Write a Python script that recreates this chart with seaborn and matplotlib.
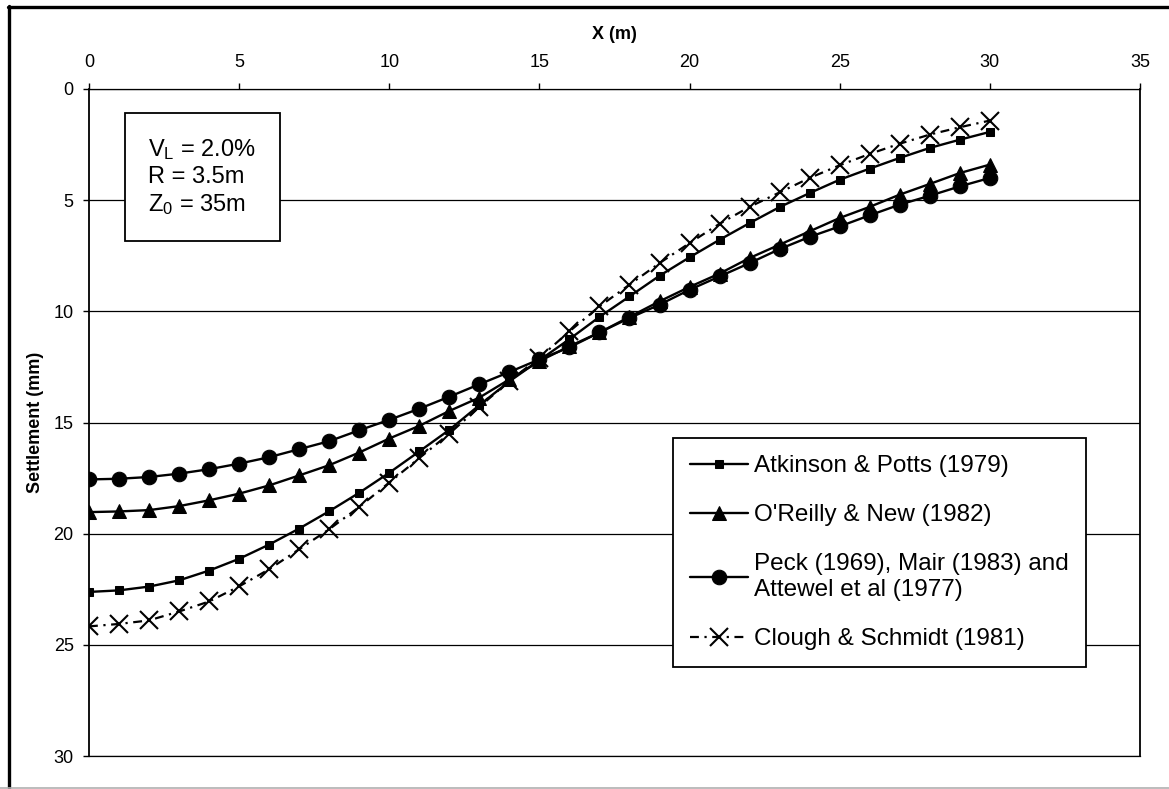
import matplotlib
matplotlib.use("Agg")
import matplotlib.pyplot as plt
import seaborn as sns
from matplotlib.lines import Line2D

# Horizontal distance from tunnel centreline (m)
distance_m = list(range(0, 31))

# Predicted surface settlement (mm) for each empirical method
atkinson_potts = [22.62, 22.55, 22.38, 22.10, 21.66, 21.13, 20.49, 19.77, 18.99, 18.16,
                  17.26, 16.30, 15.33, 14.22, 13.15, 12.20, 11.25, 10.25, 9.33, 8.40,
                  7.57, 6.78, 6.03, 5.31, 4.68, 4.08, 3.58, 3.10, 2.65, 2.28, 1.93]
oreilly_new = [19.03, 19.00, 18.94, 18.76, 18.50, 18.20, 17.83, 17.38, 16.92, 16.35,
               15.72, 15.15, 14.48, 13.88, 13.06, 12.24, 11.57, 10.95, 10.25, 9.55,
               8.90, 8.30, 7.60, 7.00, 6.40, 5.80, 5.30, 4.75, 4.27, 3.78, 3.40]
peck_mair_attewell = [17.56, 17.53, 17.45, 17.30, 17.10, 16.85, 16.56, 16.20, 15.84, 15.35,
                      14.88, 14.38, 13.84, 13.28, 12.73, 12.16, 11.62, 10.95, 10.30, 9.70,
                      9.03, 8.43, 7.83, 7.20, 6.65, 6.18, 5.68, 5.20, 4.80, 4.38, 4.00]
clough_schmidt = [24.17, 24.06, 23.90, 23.50, 23.05, 22.37, 21.60, 20.70, 19.80, 18.80,
                  17.70, 16.60, 15.50, 14.30, 13.13, 12.09, 10.90, 9.78, 8.80, 7.83,
                  6.93, 6.06, 5.30, 4.65, 4.00, 3.43, 2.92, 2.46, 2.05, 1.72, 1.42]

series_labels = ["Atkinson & Potts (1979)",
                 "O'Reilly & New (1982)",
                 "Peck (1969), Mair (1983) and\nAttewel et al (1977)",
                 "Clough & Schmidt (1981)"]
series_values = [atkinson_potts, oreilly_new, peck_mair_attewell, clough_schmidt]

x_ticks = [0, 5, 10, 15, 20, 25, 30, 35]
y_ticks = [0, 5, 10, 15, 20, 25, 30]

parameter_text = "V$_{\\mathregular{L}}$ = 2.0%\nR = 3.5m\nZ$_{\\mathregular{0}}$ = 35m"

sns.set_theme(style="white")
plt.rcParams["font.family"] = ["Liberation Sans", "DejaVu Sans"]
plt.rcParams["mathtext.fontset"] = "custom"
plt.rcParams["mathtext.rm"] = "Liberation Sans"
plt.rcParams["mathtext.it"] = "Liberation Sans:italic"
plt.rcParams["mathtext.bf"] = "Liberation Sans:bold"
plt.rcParams["text.color"] = "black"
plt.rcParams["axes.labelcolor"] = "black"
plt.rcParams["xtick.color"] = "black"
plt.rcParams["ytick.color"] = "black"

fig = plt.figure(figsize=(11.69, 7.89), dpi=100)
fig.patch.set_facecolor("white")
ax = fig.add_axes([0.0761, 0.0418, 0.8991, 0.8454])

line_styles = [
    dict(marker="s", markersize=5.5, linestyle="-", linewidth=1.7),
    dict(marker="^", markersize=10, linestyle="-", linewidth=1.7),
    dict(marker="o", markersize=10.5, linestyle="-", linewidth=1.7),
    dict(marker="x", markersize=12.5, markeredgewidth=1.5,
         linestyle=(0, (4, 2.5, 1, 2.5)), linewidth=1.6),
]

for label, values, style in zip(series_labels, series_values, line_styles):
    sns.lineplot(x=distance_m, y=values, ax=ax, color="black",
                 markeredgecolor="black", label=label, **style)

ax.set_xlim(0, 35)
ax.set_ylim(30, 0)
ax.set_xticks(x_ticks)
ax.set_yticks(y_ticks)

ax.xaxis.tick_top()
ax.xaxis.set_label_position("top")
ax.tick_params(axis="x", top=True, bottom=False, direction="out", length=4,
               width=1, pad=9, labelsize=13, colors="black")
ax.tick_params(axis="y", left=True, right=False, direction="out", length=4,
               width=1, pad=7, labelsize=13, colors="black")

ax.yaxis.grid(True, color="black", linewidth=0.9)
ax.xaxis.grid(False)
for side, spine in ax.spines.items():
    spine.set_visible(True)
    spine.set_color("black")
    spine.set_linewidth(1.3 if side in ("left", "right") else 0.9)

ax.set_xlabel("X (m)", fontsize=13, fontweight="bold", color="black")
ax.xaxis.set_label_coords(0.5, 1.075)
ax.set_ylabel("Settlement (mm)", fontsize=13, fontweight="bold", color="black")
ax.yaxis.set_label_coords(-0.043, 0.5)

handles, labels = ax.get_legend_handles_labels()
leg = ax.legend(handles, labels, loc="upper left", bbox_to_anchor=(0.5557, 0.4768),
                borderaxespad=0, fontsize=17.5, frameon=True, fancybox=False,
                edgecolor="black", framealpha=1, borderpad=0.7, labelspacing=1.12,
                handlelength=2.4, handletextpad=0.25)
leg.get_frame().set_linewidth(1.3)
for txt in leg.get_texts():
    txt.set_color("black")

ax.text(0.0565, 0.9286, parameter_text, transform=ax.transAxes, ha="left", va="top",
        fontsize=17, linespacing=1.25, color="black",
        bbox=dict(boxstyle="square,pad=1.0", fc="white", ec="black", lw=1.3))

# Outer chart-area frame
W, H = 1169, 789
fig.add_artist(Line2D([8.5 / W, 8.5 / W], [0, 1 - 6 / H], transform=fig.transFigure,
                      color="black", linewidth=2.4))
fig.add_artist(Line2D([7.5 / W, 1], [1 - 7 / H, 1 - 7 / H], transform=fig.transFigure,
                      color="black", linewidth=2.4))
fig.add_artist(Line2D([0, 1], [1 - 787.5 / H, 1 - 787.5 / H], transform=fig.transFigure,
                      color="#b0b0b0", linewidth=1.2))

fig.savefig("out.png", dpi=100, facecolor="white")
